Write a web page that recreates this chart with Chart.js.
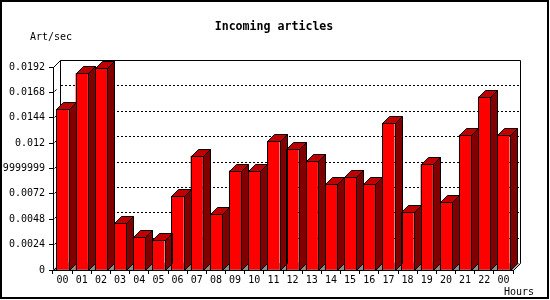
<!DOCTYPE html>
<html>
<head>
<meta charset="utf-8">
<script src="https://cdn.jsdelivr.net/npm/chart.js@4/dist/chart.umd.min.js"></script>
<style>
  html, body { margin:0; padding:0; background:#fff; }
  #wrap { width:550px; height:300px; }
</style>
</head>
<body>
<div id="wrap"><canvas id="c" width="550" height="300"></canvas></div>
<script>
// dati
const hours  = ['00','01','02','03','04','05','06','07','08','09','10','11','12','13','14','15','16','17','18','19','20','21','22','00'];
const artSec = [0.0152, 0.0186, 0.0191, 0.0044, 0.0031, 0.0028, 0.0070, 0.0108, 0.0053, 0.0094, 0.0094, 0.0122,
                0.0114, 0.0103, 0.0081, 0.0088, 0.0081, 0.0139, 0.0055, 0.0100, 0.0064, 0.0128, 0.0164, 0.0128];
const tickValues = [0, 0.0024, 0.0048, 0.0072, 0.0096, 0.012, 0.0144, 0.0168, 0.0192];
const tickLabels = ['0', '0.0024', '0.0048', '0.0072', '0.00959999999999999', '0.012', '0.0144', '0.0168', '0.0192'];

const D    = 7; // profondità 3D in pixel
const MONO = '"DejaVu Sans Mono", monospace';

const frame3d = {
  id: 'frame3d',
  beforeDraw(chart){ // sfondo bianco
    const ctx = chart.ctx;
    ctx.save();
    ctx.fillStyle = '#fff';
    ctx.fillRect(0, 0, chart.width, chart.height);
    ctx.restore();
  },
  beforeDatasetsDraw(chart){ // parete di fondo, pavimento, griglia tratteggiata
    const { ctx, chartArea:{ left, right, top, bottom }, scales:{ y } } = chart;
    ctx.save();
    ctx.lineWidth = 1;
    ctx.strokeStyle = '#000';
    // pavimento grigio
    ctx.fillStyle = '#8c8c8c';
    ctx.beginPath();
    ctx.moveTo(left, bottom); ctx.lineTo(left + D, bottom - D);
    ctx.lineTo(right + D, bottom - D); ctx.lineTo(right, bottom);
    ctx.closePath(); ctx.fill();
    // griglia sul fondo
    ctx.setLineDash([2, 2]);
    tickValues.forEach(v => {
      if (v === 0 || v === tickValues.at(-1)) return;
      const py = Math.round(y.getPixelForValue(v)) - D + 0.5;
      ctx.beginPath(); ctx.moveTo(left + D + 1, py); ctx.lineTo(right + D, py); ctx.stroke();
    });
    ctx.setLineDash([]);
    // bordo parete
    const L = Math.round(left) + D + 0.5, R = Math.round(right) + D + 0.5;
    const T = Math.round(top) - D + 0.5,  B = Math.round(bottom) - D + 0.5;
    ctx.beginPath();
    ctx.moveTo(L, B); ctx.lineTo(L, T); ctx.lineTo(R, T); ctx.lineTo(R, B);
    ctx.stroke();
    // diagonali
    ctx.beginPath();
    ctx.moveTo(Math.round(left) + 0.5, Math.round(top) + 0.5); ctx.lineTo(L, T);
    ctx.moveTo(Math.round(right) + 0.5, Math.round(bottom) + 0.5); ctx.lineTo(R, B);
    ctx.moveTo(Math.round(left) + 0.5, Math.round(bottom) + 0.5); ctx.lineTo(L, B);
    ctx.stroke();
    // piccoli segni obliqui sulle tacche
    tickValues.forEach(v => {
      const py = Math.round(y.getPixelForValue(v)) + 0.5;
      ctx.beginPath(); ctx.moveTo(Math.round(left) + 1.5, py - 1); ctx.lineTo(Math.round(left) + 3.5, py - 3); ctx.stroke();
    });
    ctx.restore();
  },
  afterDatasetsDraw(chart){ // facce laterali e superiori delle barre
    const ctx = chart.ctx;
    const meta = chart.getDatasetMeta(0);
    ctx.save();
    ctx.lineWidth = 1;
    ctx.strokeStyle = '#000';
    meta.data.forEach(el => {
      const { x, y, width, base } = el.getProps(['x', 'y', 'width', 'base'], true);
      const xl = Math.round(x - width / 2) + 0.5, xr = Math.round(x + width / 2) + 0.5;
      const yt = Math.round(y) + 0.5, yb = Math.round(base) + 0.5;
      // lato
      ctx.fillStyle = '#800000';
      ctx.beginPath();
      ctx.moveTo(xr, yt); ctx.lineTo(xr + D, yt - D); ctx.lineTo(xr + D, yb - D); ctx.lineTo(xr, yb);
      ctx.closePath(); ctx.fill(); ctx.stroke();
      // sopra
      ctx.fillStyle = '#c00000';
      ctx.beginPath();
      ctx.moveTo(xl, yt); ctx.lineTo(xl + D, yt - D); ctx.lineTo(xr + D, yt - D); ctx.lineTo(xr, yt);
      ctx.closePath(); ctx.fill(); ctx.stroke();
      // fronte
      ctx.strokeRect(xl, yt, xr - xl, yb - yt);
    });
    ctx.restore();
  },
  afterDraw(chart){ // testi e cornice
    const ctx = chart.ctx;
    ctx.save();
    ctx.fillStyle = '#000';
    ctx.textBaseline = 'middle';
    ctx.font = 'bold 11.6px ' + MONO;
    ctx.textAlign = 'center';
    ctx.fillText('Incoming articles', 274, 27);
    ctx.font = '10px ' + MONO;
    ctx.textAlign = 'left';
    ctx.fillText('Art/sec', 30, 37);
    ctx.fillText('Hours', 504, 292);
    ctx.lineWidth = 2;
    ctx.strokeStyle = '#000';
    ctx.strokeRect(1, 1, 547, 297);
    ctx.restore();
  }
};

new Chart(document.getElementById('c'), {
  type: 'bar',
  data: {
    labels: hours,
    datasets: [{
      label: 'Art/sec', data: artSec,
      backgroundColor: '#ff0000', borderWidth: 0,
      barPercentage: 0.8, categoryPercentage: 0.8
    }]
  },
  options: {
    responsive: false, animation: false, devicePixelRatio: 1,
    layout: { padding: { top: 67, right: 37, left: 0, bottom: 0 } },
    plugins: { legend: { display: false }, tooltip: { enabled: false } },
    scales: {
      x: {
        afterFit: s => { s.height = 30; },
        grid: { offset: true, drawOnChartArea: false, tickLength: 4, color: '#000' },
        border: { color: '#000', width: 1 },
        ticks: { color: '#000', font: { family: MONO, size: 10 }, padding: 0, maxRotation: 0, autoSkip: false }
      },
      y: {
        min: 0, max: tickValues.at(-1),
        afterFit: s => { s.width = 53; },
        afterBuildTicks: s => { s.ticks = tickValues.map(v => ({ value: v })); },
        grid: { drawOnChartArea: false, tickLength: 4, color: '#000' },
        border: { color: '#000', width: 1 },
        ticks: { color: '#000', font: { family: MONO, size: 10 }, padding: 4, callback: (v, i) => tickLabels[i] }
      }
    }
  },
  plugins: [frame3d]
});
</script>
</body>
</html>
